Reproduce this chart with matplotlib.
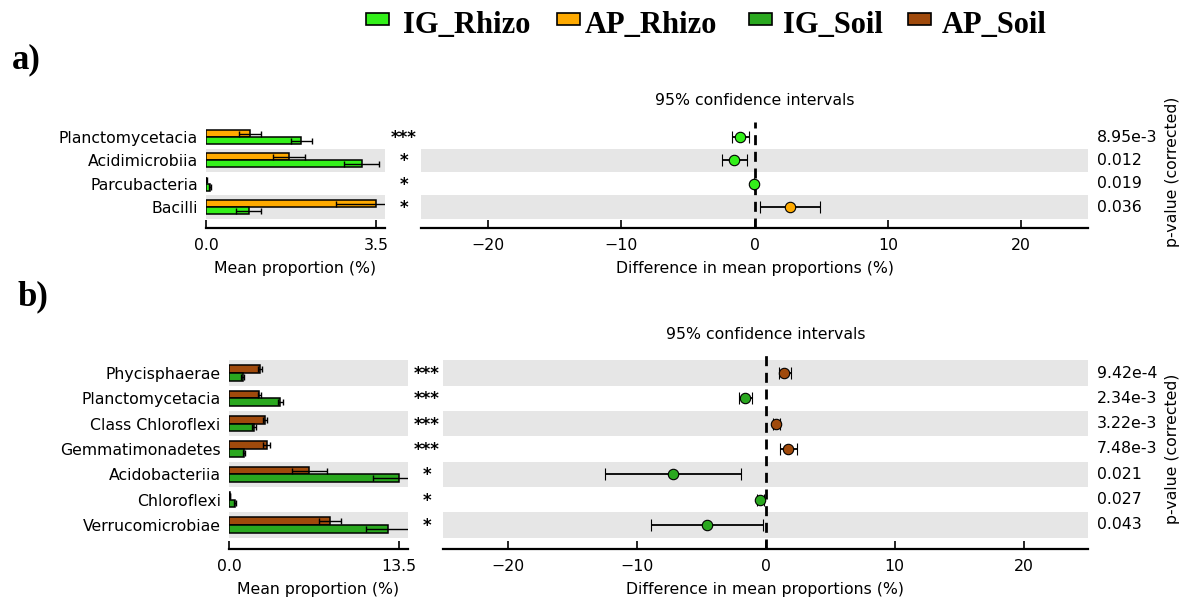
"""Two-panel extended error bar plot (STAMP style): mean proportions + 95% CI of differences."""

import matplotlib

matplotlib.use("Agg")
import matplotlib.pyplot as plt
from matplotlib.patches import Rectangle

# ---- panel a: rhizosphere ----
cats_a = ["Planctomycetacia", "Acidimicrobiia", "Parcubacteria", "Bacilli"]
ig_rhizo = [1.96, 3.21, 0.09, 0.88]
ig_rhizo_err = [0.22, 0.36, 0.02, 0.26]
ap_rhizo = [0.90, 1.71, 0.01, 3.50]
ap_rhizo_err = [0.23, 0.33, 0.005, 0.82]
diff_a = [-1.06, -1.50, -0.04, 2.64]
lo_a = [-1.65, -2.46, -0.07, 0.40]
hi_a = [-0.44, -0.55, -0.02, 4.88]
pvals_a = ["8.95e-3", "0.012", "0.019", "0.036"]
stars_a = ["***", "*", "*", "*"]

# ---- panel b: bulk soil ----
cats_b = ["Phycisphaerae", "Planctomycetacia", "Class Chloroflexi", "Gemmatimonadetes",
          "Acidobacteriia", "Chloroflexi", "Verrucomicrobiae"]
ig_soil = [1.09, 4.05, 1.98, 1.21, 13.52, 0.50, 12.60]
ig_soil_err = [0.12, 0.20, 0.15, 0.08, 2.11, 0.08, 1.72]
ap_soil = [2.46, 2.41, 2.86, 2.99, 6.38, 0.06, 8.02]
ap_soil_err = [0.15, 0.12, 0.15, 0.30, 1.39, 0.02, 0.88]
diff_b = [1.44, -1.59, 0.85, 1.78, -7.19, -0.41, -4.52]
lo_b = [1.07, -2.07, 0.56, 1.11, -12.48, -0.67, -8.85]
hi_b = [2.00, -1.04, 1.15, 2.41, -1.89, -0.11, -0.22]
pvals_b = ["9.42e-4", "2.34e-3", "3.22e-3", "7.48e-3", "0.021", "0.027", "0.043"]
stars_b = ["***", "***", "***", "***", "*", "*", "*"]

C_IG_RHIZO = "#33f01a"
C_AP_RHIZO = "#ffaa00"
C_IG_SOIL = "#2aa81f"
C_AP_SOIL = "#a04a0c"

legend_names = ["IG_Rhizo", "AP_Rhizo", "IG_Soil", "AP_Soil"]
legend_colors = [C_IG_RHIZO, C_AP_RHIZO, C_IG_SOIL, C_AP_SOIL]

W, H = 1189, 602
FS = 11.3
plt.rcParams["font.family"] = "DejaVu Sans"
fig = plt.figure(figsize=(W / 100, H / 100), dpi=100)


def px_axes(left, top, right, bottom):
    return fig.add_axes([left / W, 1 - bottom / H, (right - left) / W, (bottom - top) / H])


def shade(ax, n):
    # alternate rows shaded, counting from the bottom row
    for i in range(n):
        if (n - 1 - i) % 2 == 0:
            ax.axhspan(i - 0.5, i + 0.5, color="0.9", lw=0, zorder=0)


def style_bottom(ax):
    for s in ("top", "right", "left"):
        ax.spines[s].set_visible(False)
    ax.spines["bottom"].set_linewidth(1.6)
    ax.tick_params(axis="x", direction="in", length=6, width=1.2, pad=7, labelsize=FS)


def panel(bar_box, ci_box, ylim, cats, ig, ig_err, ap, ap_err, c_ig, c_ap,
          diff, lo, hi, pvals, stars, bar_xmax, bar_tick, title_pad):
    n = len(cats)
    rows = list(range(n))
    h = 0.30

    axb = px_axes(*bar_box)
    shade(axb, n)
    axb.barh([r - h / 2 for r in rows], ap, height=h, color=c_ap, edgecolor="black", lw=1.1,
             xerr=ap_err, error_kw=dict(ecolor="black", elinewidth=1, capsize=2), zorder=2)
    axb.barh([r + h / 2 for r in rows], ig, height=h, color=c_ig, edgecolor="black", lw=1.1,
             xerr=ig_err, error_kw=dict(ecolor="black", elinewidth=1, capsize=2), zorder=2)
    axb.set_ylim(*ylim)
    axb.set_xlim(0, bar_xmax)
    axb.set_yticks(rows)
    axb.set_yticklabels(cats)
    axb.tick_params(axis="y", length=0, pad=6, labelsize=FS)
    axb.set_xticks([0, bar_tick])
    axb.set_xticklabels(["0.0", f"{bar_tick:.1f}"])
    axb.set_xlabel("Mean proportion (%)", fontsize=FS, labelpad=6)
    style_bottom(axb)
    for r, s in zip(rows, stars):
        axb.annotate(s, xy=(1, r), xycoords=("axes fraction", "data"), xytext=(19, -1),
                     textcoords="offset pixels", ha="center", va="center",
                     fontsize=12, fontweight="bold")

    axc = px_axes(*ci_box)
    shade(axc, n)
    axc.axvline(0, color="black", lw=2.0, ls=(0, (3.6, 2.4)), zorder=1)
    for r, d, l, u in zip(rows, diff, lo, hi):
        col = c_ap if d > 0 else c_ig
        axc.errorbar(d, r, xerr=[[d - l], [u - d]], fmt="o", color=col, mec="black", mew=0.8,
                     ms=7.5, ecolor="black", elinewidth=1.3, capsize=4.5, capthick=1.1, zorder=3)
    axc.set_ylim(*ylim)
    axc.set_xlim(-25, 25)
    axc.set_yticks([])
    axc.set_xticks([-20, -10, 0, 10, 20])
    axc.set_xlabel("Difference in mean proportions (%)", fontsize=FS, labelpad=6)
    axc.set_title("95% confidence intervals", fontsize=FS, pad=title_pad)
    style_bottom(axc)
    for r, p in zip(rows, pvals):
        axc.annotate(p, xy=(1, r), xycoords=("axes fraction", "data"), xytext=(9, 0),
                     textcoords="offset pixels", ha="left", va="center", fontsize=FS)
    axc.annotate("p-value (corrected)", xy=(1, (n - 1) / 2), xycoords=("axes fraction", "data"),
                 xytext=(84, 0), textcoords="offset pixels", ha="center", va="center",
                 rotation=90, fontsize=FS)


panel((206, 122, 385, 228), (421, 122, 1088, 228), (3.9, -0.65),
      cats_a, ig_rhizo, ig_rhizo_err, ap_rhizo, ap_rhizo_err, C_IG_RHIZO, C_AP_RHIZO,
      diff_a, lo_a, hi_a, pvals_a, stars_a, 3.685, 3.5, 12)
panel((229, 350, 408, 549), (443, 350, 1088, 549), (6.95, -0.91),
      cats_b, ig_soil, ig_soil_err, ap_soil, ap_soil_err, C_IG_SOIL, C_AP_SOIL,
      diff_b, lo_b, hi_b, pvals_b, stars_b, 14.2, 13.5, 8)

# figure legend drawn by hand (squares + bold serif labels)
sq_x = [366, 557, 749, 908]
txt_x = [403, 585, 783, 942]
for name, col, sx, tx in zip(legend_names, legend_colors, sq_x, txt_x):
    fig.patches.append(Rectangle((sx / W, 1 - 25 / H), 23 / W, 12 / H, transform=fig.transFigure,
                                 facecolor=col, edgecolor="black", lw=1.2))
    fig.text(tx / W, 1 - 33 / H, name, fontsize=22, fontweight="bold",
             family="Liberation Serif", ha="left", va="baseline")

fig.text(12 / W, 1 - 68 / H, "a)", fontsize=25, fontweight="bold", family="Liberation Serif",
         va="baseline")
fig.text(17 / W, 1 - 305 / H, "b)", fontsize=25, fontweight="bold", family="Liberation Serif",
         va="baseline")

fig.savefig("out.png", dpi=100)
